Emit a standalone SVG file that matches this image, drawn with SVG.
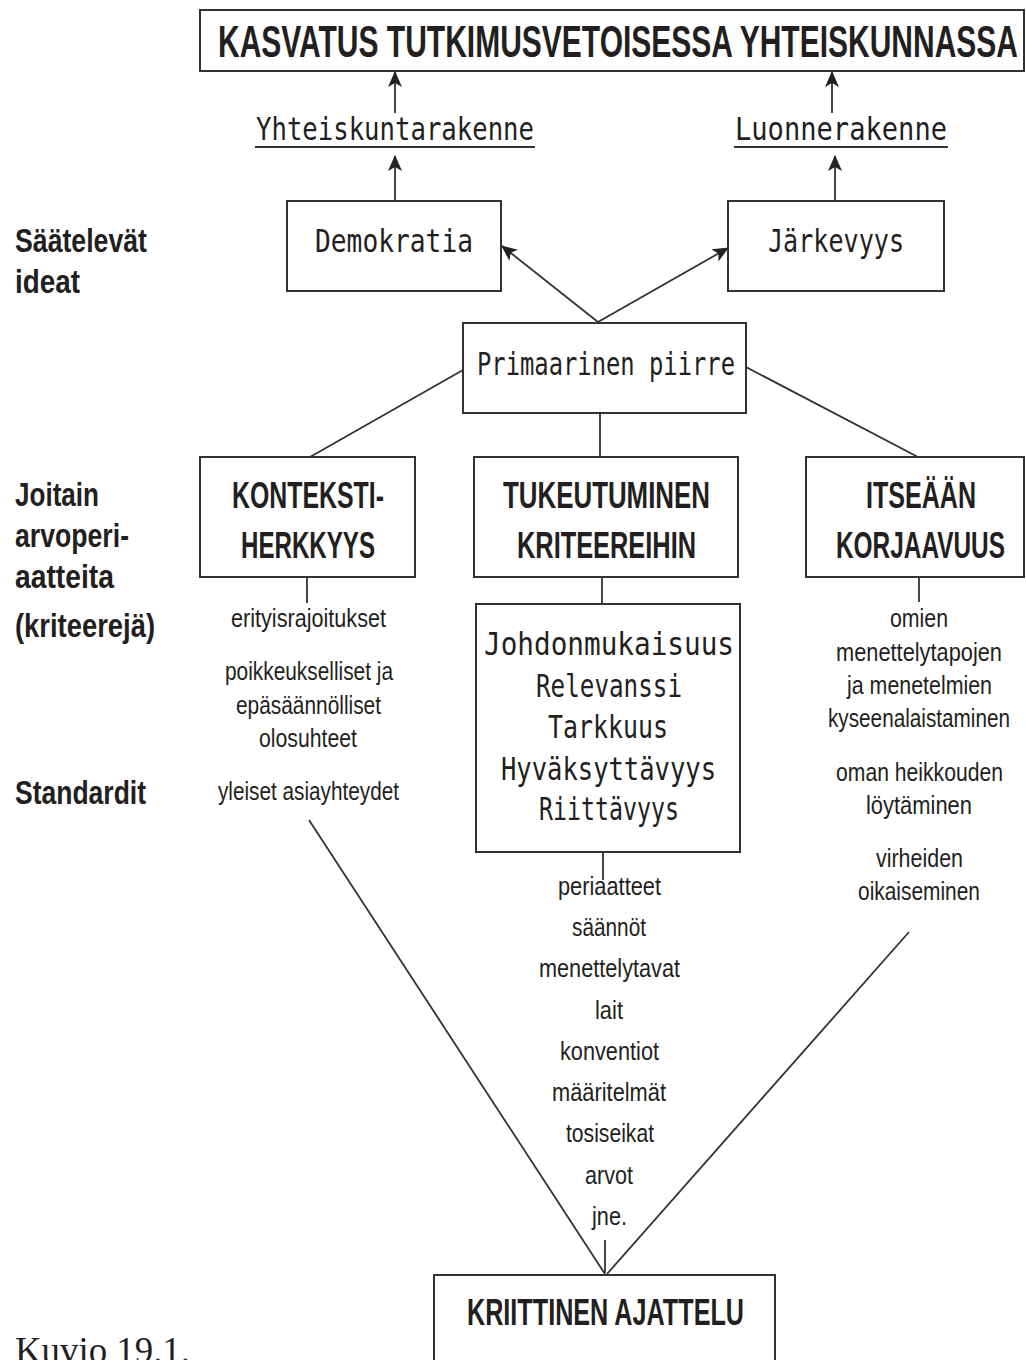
<svg xmlns="http://www.w3.org/2000/svg" width="1026" height="1360" viewBox="0 0 1026 1360">
<style>
.box{fill:#fff;stroke:#333;stroke-width:2}
.ln{stroke:#333;stroke-width:1.8;fill:none}
.t{font-family:"Liberation Sans",Arial,sans-serif;fill:#231f20}
.b{font-weight:bold}
.s{font-size:26px}
.h{font-size:36px;font-weight:bold}
.sp{font-family:"DejaVu Sans Mono","Liberation Mono",monospace;font-size:32px;fill:#231f20}
.lab{font-size:34px;font-weight:bold}
</style>
<defs>
<marker id="ah" markerUnits="userSpaceOnUse" markerWidth="16" markerHeight="14" refX="15" refY="7" orient="auto">
<path d="M0,0 L16,7 L0,14 L4,7 z" fill="#222"/>
</marker>
</defs>
<rect width="1026" height="1360" fill="#fff"/>

<g id="connectors">
<line class="ln" x1="395" y1="113" x2="395" y2="72" marker-end="url(#ah)"/>
<line class="ln" x1="832" y1="113" x2="832" y2="72" marker-end="url(#ah)"/>
<line class="ln" x1="395" y1="201" x2="395" y2="156" marker-end="url(#ah)"/>
<line class="ln" x1="835" y1="201" x2="835" y2="156" marker-end="url(#ah)"/>
<line class="ln" x1="598" y1="322" x2="502" y2="246" marker-end="url(#ah)"/>
<line class="ln" x1="598" y1="322" x2="728" y2="248" marker-end="url(#ah)"/>
<line class="ln" x1="463" y1="370" x2="310" y2="457"/>
<line class="ln" x1="746" y1="367" x2="918" y2="457"/>
<line class="ln" x1="600" y1="413" x2="600" y2="457"/>
<line class="ln" x1="307" y1="577" x2="307" y2="603"/>
<line class="ln" x1="602" y1="577" x2="602" y2="604"/>
<line class="ln" x1="919" y1="577" x2="919" y2="602"/>
<line class="ln" x1="603" y1="852" x2="603" y2="880"/>
<line class="ln" x1="605" y1="1240" x2="605" y2="1273"/>
<line class="ln" x1="309" y1="820" x2="605" y2="1274"/>
<line class="ln" x1="909" y1="932" x2="607" y2="1274"/>
</g>

<g id="title">
<rect class="box" x="200" y="10" width="824" height="61"/>
<text class="t b" x="218" y="57" font-size="44" textLength="800" lengthAdjust="spacingAndGlyphs">KASVATUS TUTKIMUSVETOISESSA YHTEISKUNNASSA</text>
</g>

<g id="yhteiskuntarakenne">
<text class="sp" x="256" y="140" textLength="278" lengthAdjust="spacingAndGlyphs">Yhteiskuntarakenne</text>
<line class="ln" x1="255" y1="147" x2="535" y2="147"/>
</g>
<g id="luonnerakenne">
<text class="sp" x="735" y="140" textLength="212" lengthAdjust="spacingAndGlyphs">Luonnerakenne</text>
<line class="ln" x1="734" y1="147" x2="948" y2="147"/>
</g>

<g id="saatelevat">
<text class="t lab" x="15" y="252" textLength="132" lengthAdjust="spacingAndGlyphs">Säätelevät</text>
<text class="t lab" x="15" y="293" textLength="65" lengthAdjust="spacingAndGlyphs">ideat</text>
</g>

<g id="demokratia">
<rect class="box" x="287" y="201" width="214" height="90"/>
<text class="sp" x="315" y="252" textLength="158" lengthAdjust="spacingAndGlyphs">Demokratia</text>
</g>
<g id="jarkevyys">
<rect class="box" x="728" y="201" width="216" height="90"/>
<text class="sp" x="768" y="252" textLength="136" lengthAdjust="spacingAndGlyphs">Järkevyys</text>
</g>

<g id="primaarinen">
<rect class="box" x="463" y="323" width="283" height="90"/>
<text class="sp" x="477" y="375" textLength="258" lengthAdjust="spacingAndGlyphs">Primaarinen piirre</text>
</g>

<g id="joitain">
<text class="t lab" x="15" y="506" textLength="84" lengthAdjust="spacingAndGlyphs">Joitain</text>
<text class="t lab" x="15" y="547" textLength="114" lengthAdjust="spacingAndGlyphs">arvoperi-</text>
<text class="t lab" x="15" y="588" textLength="99" lengthAdjust="spacingAndGlyphs">aatteita</text>
<text class="t lab" x="15" y="637" textLength="140" lengthAdjust="spacingAndGlyphs">(kriteerejä)</text>
</g>
<g id="standardit">
<text class="t lab" x="15" y="804" textLength="131" lengthAdjust="spacingAndGlyphs">Standardit</text>
</g>

<g id="konteksti">
<rect class="box" x="200" y="457" width="215" height="120"/>
<text class="t h" x="232" y="508" textLength="152" lengthAdjust="spacingAndGlyphs">KONTEKSTI-</text>
<text class="t h" x="241" y="558" textLength="134" lengthAdjust="spacingAndGlyphs">HERKKYYS</text>
</g>
<g id="tukeutuminen">
<rect class="box" x="474" y="457" width="264" height="120"/>
<text class="t h" x="503" y="508" textLength="207" lengthAdjust="spacingAndGlyphs">TUKEUTUMINEN</text>
<text class="t h" x="517" y="558" textLength="179" lengthAdjust="spacingAndGlyphs">KRITEEREIHIN</text>
</g>
<g id="itseaan">
<rect class="box" x="806" y="457" width="218" height="120"/>
<text class="t h" x="866" y="508" textLength="110" lengthAdjust="spacingAndGlyphs">ITSEÄÄN</text>
<text class="t h" x="836" y="558" textLength="169" lengthAdjust="spacingAndGlyphs">KORJAAVUUS</text>
</g>

<g id="kontekstitekstit">
<text class="t s" x="231" y="627" textLength="155" lengthAdjust="spacingAndGlyphs">erityisrajoitukset</text>
<text class="t s" x="225" y="680" textLength="168" lengthAdjust="spacingAndGlyphs">poikkeukselliset ja</text>
<text class="t s" x="236" y="714" textLength="145" lengthAdjust="spacingAndGlyphs">epäsäännölliset</text>
<text class="t s" x="259" y="747" textLength="98" lengthAdjust="spacingAndGlyphs">olosuhteet</text>
<text class="t s" x="218" y="800" textLength="181" lengthAdjust="spacingAndGlyphs">yleiset asiayhteydet</text>
</g>

<g id="kriteerit">
<rect class="box" x="476" y="604" width="264" height="248"/>
<text class="sp" x="484" y="655" textLength="250" lengthAdjust="spacingAndGlyphs">Johdonmukaisuus</text>
<text class="sp" x="536" y="697" textLength="146" lengthAdjust="spacingAndGlyphs">Relevanssi</text>
<text class="sp" x="548" y="738" textLength="120" lengthAdjust="spacingAndGlyphs">Tarkkuus</text>
<text class="sp" x="501" y="780" textLength="215" lengthAdjust="spacingAndGlyphs">Hyväksyttävyys</text>
<text class="sp" x="539" y="820" textLength="140" lengthAdjust="spacingAndGlyphs">Riittävyys</text>
</g>

<g id="itsekorjaustekstit">
<text class="t s" x="890" y="627" textLength="58" lengthAdjust="spacingAndGlyphs">omien</text>
<text class="t s" x="836" y="661" textLength="166" lengthAdjust="spacingAndGlyphs">menettelytapojen</text>
<text class="t s" x="847" y="694" textLength="145" lengthAdjust="spacingAndGlyphs">ja menetelmien</text>
<text class="t s" x="828" y="727" textLength="182" lengthAdjust="spacingAndGlyphs">kyseenalaistaminen</text>
<text class="t s" x="836" y="781" textLength="167" lengthAdjust="spacingAndGlyphs">oman heikkouden</text>
<text class="t s" x="866" y="814" textLength="106" lengthAdjust="spacingAndGlyphs">löytäminen</text>
<text class="t s" x="876" y="867" textLength="87" lengthAdjust="spacingAndGlyphs">virheiden</text>
<text class="t s" x="858" y="900" textLength="122" lengthAdjust="spacingAndGlyphs">oikaiseminen</text>
</g>

<g id="standarditlista">
<text class="t s" x="558" y="895" textLength="103" lengthAdjust="spacingAndGlyphs">periaatteet</text>
<text class="t s" x="572" y="936" textLength="74" lengthAdjust="spacingAndGlyphs">säännöt</text>
<text class="t s" x="539" y="977" textLength="141" lengthAdjust="spacingAndGlyphs">menettelytavat</text>
<text class="t s" x="595" y="1019" textLength="28" lengthAdjust="spacingAndGlyphs">lait</text>
<text class="t s" x="560" y="1060" textLength="99" lengthAdjust="spacingAndGlyphs">konventiot</text>
<text class="t s" x="552" y="1101" textLength="114" lengthAdjust="spacingAndGlyphs">määritelmät</text>
<text class="t s" x="566" y="1142" textLength="88" lengthAdjust="spacingAndGlyphs">tosiseikat</text>
<text class="t s" x="585" y="1184" textLength="48" lengthAdjust="spacingAndGlyphs">arvot</text>
<text class="t s" x="592" y="1225" textLength="35" lengthAdjust="spacingAndGlyphs">jne.</text>
</g>

<g id="kriittinen">
<rect class="box" x="434" y="1275" width="341" height="100"/>
<text class="t h" x="467" y="1325" textLength="277" lengthAdjust="spacingAndGlyphs">KRIITTINEN AJATTELU</text>
</g>

<g id="kuvio">
<text x="15" y="1363" font-family="Liberation Serif,serif" font-size="37" fill="#231f20" textLength="175" lengthAdjust="spacingAndGlyphs">Kuvio 19.1.</text>
</g>
</svg>
